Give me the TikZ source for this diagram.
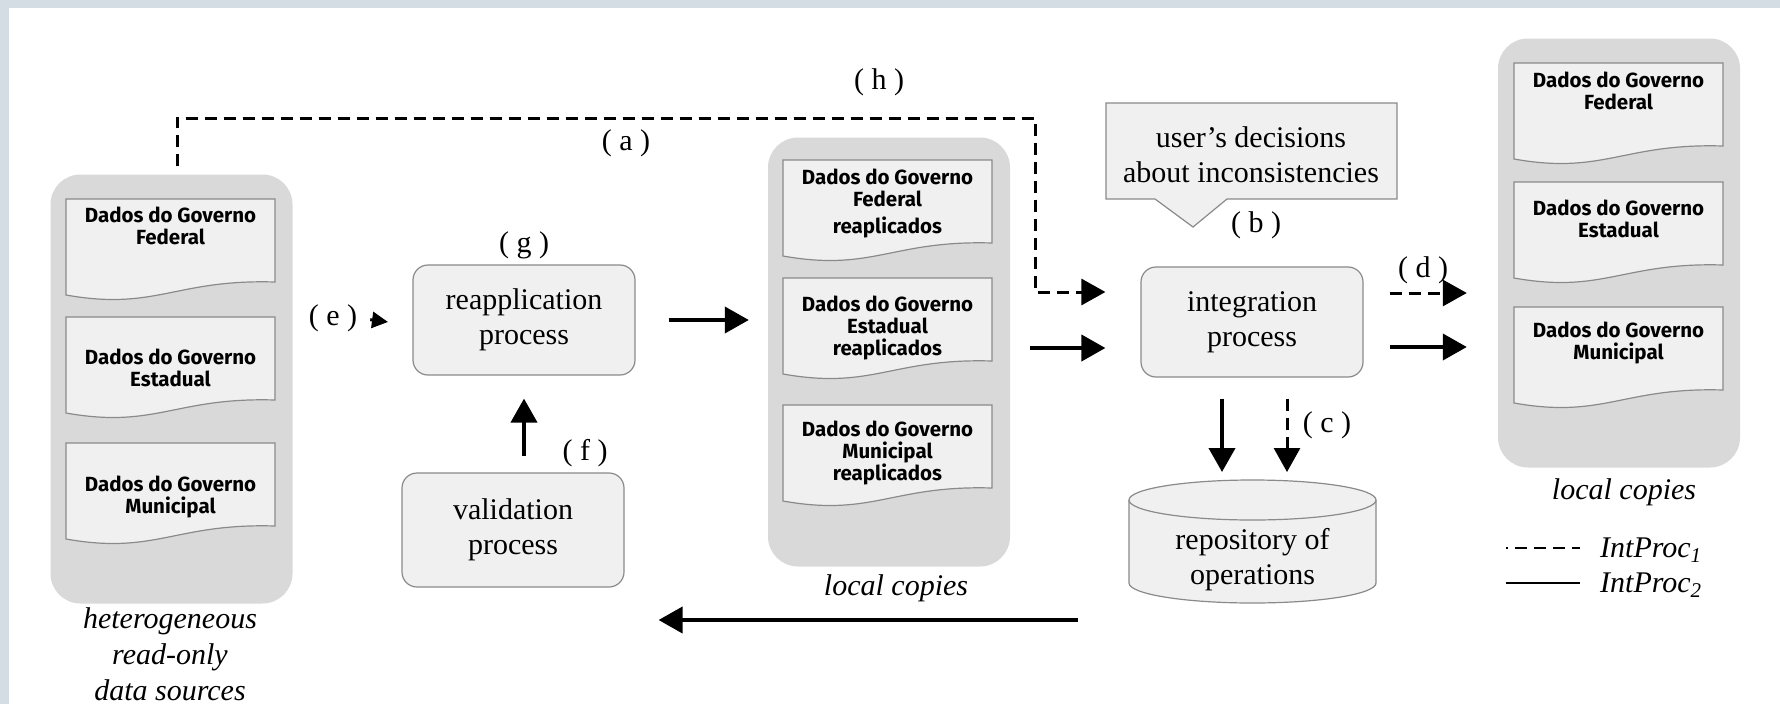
\documentclass[tikz,border=0pt]{standalone}
\usepackage{fontspec}
\setmainfont{Liberation Serif}
\setsansfont{Fira Sans}
\usetikzlibrary{arrows.meta,calc,positioning}

\definecolor{framegray}{HTML}{D3DDE3}
\definecolor{holdergray}{HTML}{D9D9D9}
\definecolor{paper}{HTML}{F0F0F0}
\definecolor{edgegray}{HTML}{8A8A8A}

% one data document: name, left x, top y, text centre y, text
\newcommand{\dadosdoc}[5]{%
  \draw[docpaper] (#2,#3) -- (#2+209,#3) -- (#2+209,#3+83)
    .. controls (#2+109,#3+80) and (#2+90,#3+112) .. (#2,#3+96) -- cycle;
  \node[doctext] (#1) at (#2+104.5,#4) {#5};
}

\begin{document}
\begin{tikzpicture}[x=1pt,y=-1pt,>=Latex,
	holder/.style={fill=holdergray,rounded corners=30pt,minimum width=242pt,minimum height=429pt},
	docpaper/.style={fill=paper,draw=edgegray,line width=1.2pt},
	doctext/.style={font=\sffamily\bfseries\fontsize{20.5}{22}\selectfont,align=center,inner sep=0pt},
	procbox/.style={fill=paper,draw=edgegray,line width=1.2pt,rounded corners=15pt,
		minimum width=222pt,minimum height=110pt,align=center,font=\fontsize{30}{35}\selectfont},
	tag/.style={font=\fontsize{30}{35}\selectfont,inner sep=0pt},
	caption/.style={font=\itshape\fontsize{30}{36}\selectfont,align=center,inner sep=0pt},
	arr/.style={line width=4pt,-{Triangle[length=24pt,width=26pt]}},
	dasharr/.style={arr,line width=3pt,dash pattern=on 12pt off 7pt},
	]
	
	% Canvas and frame
	\useasboundingbox (0,0) rectangle (1780,704);
	\fill[white] (0,0) rectangle (1780,704);
	\fill[framegray] (0,0) rectangle (9,704);
	\fill[framegray] (0,0) rectangle (1780,8);
	
	% Containers of documents
	\node[holder] (src) at (171.5,389) {};
	\node[holder] (midc) at (889,352) {};
	\node[holder] (locc) at (1619,253) {};
	
	% Heterogeneous read-only sources
	\dadosdoc{srcfed}{66}{199}{226}{Dados do Governo\\Federal}
	\dadosdoc{srcest}{66}{317}{368}{Dados do Governo\\Estadual}
	\dadosdoc{srcmun}{66}{443}{497}{Dados do Governo\\Municipal}
	\node[caption] (srccap) at (170,654) {heterogeneous\\read-only\\data sources};
	
	% Reapplied local copies
	\dadosdoc{midfed}{783}{160}{203}{Dados do Governo\\Federal\\[5pt]reaplicados}
	\dadosdoc{midest}{783}{278}{328}{Dados do Governo\\Estadual\\reaplicados}
	\dadosdoc{midmun}{783}{405}{453}{Dados do Governo\\Municipal\\reaplicados}
	\node[caption] (midcap) at (896,588) {local copies};
	
	% Integrated local copies
	\dadosdoc{locfed}{1514}{63}{91}{Dados do Governo\\Federal}
	\dadosdoc{locest}{1514}{182}{219}{Dados do Governo\\Estadual}
	\dadosdoc{locmun}{1514}{307}{343}{Dados do Governo\\Municipal}
	\node[caption] (loccap) at (1624,492) {local copies};
	
	% Processes
	\node[procbox] (reapp) at (524,320) {reapplication\\process};
	\node[procbox,minimum height=114pt] (valid) at (513,530) {validation\\process};
	\node[procbox] (integ) at (1252,322) {integration\\process};
	
	% User's decisions (callout)
	\draw[docpaper] (1106,103) -- (1397,103) -- (1397,199) -- (1227,199)
		-- (1193,227) -- (1155,199) -- (1106,199) -- cycle;
	\node[tag,align=center] (callout) at (1251,155) {user’s decisions\\about inconsistencies};
	
	% Repository of operations (cylinder)
	\coordinate (repotop) at (1252.5,480);
	\draw[docpaper] (1129,500) -- (1129,583)
		arc[start angle=180,end angle=0,x radius=123.5,y radius=20] -- (1376,500);
	\draw[docpaper] (1252.5,500) ellipse[x radius=123.5,y radius=20];
	\node[tag,align=center] (repo) at (1252.5,560) {repository of\\operations};
	
	% Labels
	\node[tag] (lblh) at (879,82) {( h )};
	\node[tag] (lbla) at (626,143) {( a )};
	\node[tag] (lblg) at (524,245) {( g )};
	\node[tag] (lble) at (333,318) {( e )};
	\node[tag] (lblf) at (585,453) {( f )};
	\node[tag] (lblb) at (1256,225) {( b )};
	\node[tag] (lbld) at (1423,270) {( d )};
	\node[tag] (lblc) at (1327,425) {( c )};
	
	% (e) into the reapplication
	\coordinate (etip) at (388,322);
	\draw[line width=3pt,-{Triangle[length=16pt,width=16pt]},shorten <=13pt] (lble.east) -- (etip);
	
	% reapplication -> local copies, validation -> reapplication
	\draw[arr,shorten <=33pt,shorten >=19pt] (reapp.east) -- (reapp.east -| midc.west);
	\draw[arr,shorten <=16pt,shorten >=23pt] (reapp.south |- valid.north) -- (reapp.south);
	
	% IntProc1 route from the sources (h)
	\coordinate (hA) at ($(src.north)+(5.5,-8)$);
	\coordinate (hB) at (1035,118);
	\coordinate (hC) at ($(integ.west)+(-35,-30)$);
	\draw[dasharr] (hA) |- (hB) |- (hC);
	
	% local copies -> integration
	\coordinate (mA) at ($(midc.east)+(20,-4)$);
	\draw[arr,shorten >=35pt] (mA) -- (mA -| integ.west);
	
	% integration -> local copies (d)
	\coordinate (dA) at ($(integ.east)+(26,-29)$);
	\coordinate (dB) at ($(integ.east)+(26,25)$);
	\draw[dasharr,shorten >=31pt] (dA) -- (dA -| locc.west);
	\draw[arr,shorten >=31pt] (dB) -- (dB -| locc.west);
	
	% integration -> repository (c)
	\coordinate (cA) at ($(integ.south)+(-30,21)$);
	\coordinate (cB) at ($(integ.south)+(35,21)$);
	\draw[arr,shorten >=8pt] (cA) -- (cA |- repotop);
	\draw[dasharr,shorten >=8pt] (cB) -- (cB |- repotop);
	
	% repository back to the validation
	\coordinate (bA) at (1078,620);
	\draw[arr,shorten >=34pt] (bA) -- (bA -| valid.east);
	
	% Legend
	\node[caption,anchor=west] (leg1) at (1600,550) {IntProc\textsubscript{1}};
	\node[caption,anchor=west] (leg2) at (1600,585) {IntProc\textsubscript{2}};
	\draw[line width=2pt,dash pattern=on 12pt off 7pt,dash phase=10pt] ($(leg1.west)+(-94,-2)$) -- ($(leg1.west)+(-20,-2)$);
	\draw[line width=2.5pt] ($(leg2.west)+(-94,-2)$) -- ($(leg2.west)+(-20,-2)$);
	
\end{tikzpicture}
\end{document}
